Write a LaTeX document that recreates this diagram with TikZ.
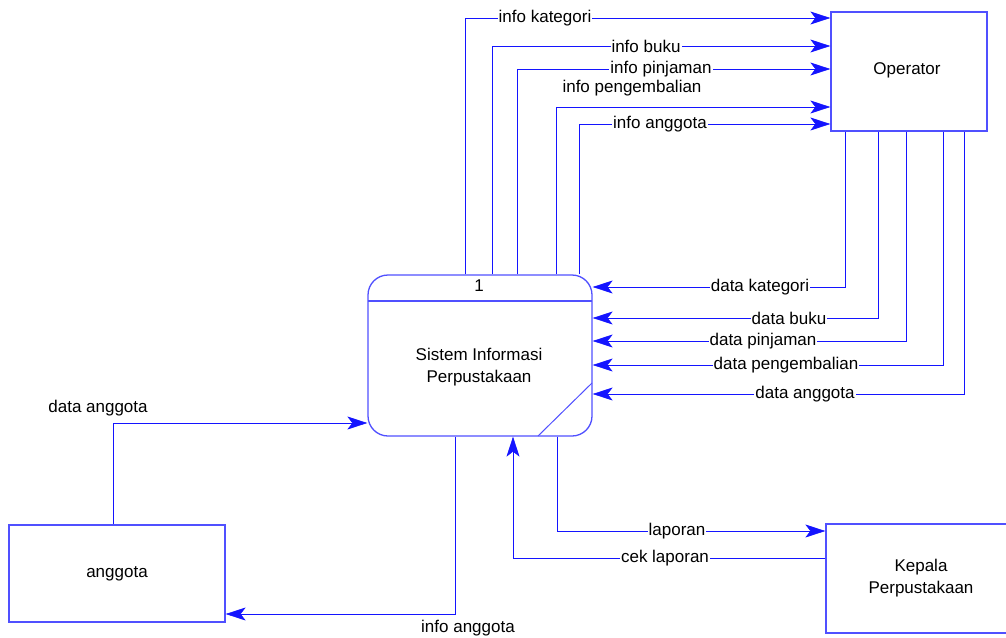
\documentclass[tikz,border=0pt]{standalone}
\usepackage{fontspec}
\setmainfont{Liberation Sans}
\usetikzlibrary{arrows.meta}
\definecolor{lineblue}{RGB}{20,20,255}
\definecolor{boxblue}{RGB}{80,80,255}
\begin{document}
\begin{tikzpicture}[x=1pt,y=-1pt,
  font=\fontsize{17}{22}\selectfont,
  flow/.style={draw=lineblue,line width=1pt,-{Stealth[length=20pt,width=13pt,inset=5pt,fill=lineblue,line width=0.6pt]}},
  entity/.style={draw=boxblue,line width=1.3pt,rectangle,inner sep=0pt},
  lbl/.style={fill=white,inner sep=1pt,text=black},
  txt/.style={inner sep=0pt,text=black,align=center}]
\useasboundingbox (0,0) rectangle (1006,637);
% entities
\node[entity,minimum width=156pt,minimum height=119pt] (op) at (909,71.5) {};
\node[txt] (optext) at (907,70) {Operator};
\node[entity,minimum width=216pt,minimum height=97pt] (ang) at (117,573.5) {};
\node[txt] (angtext) at (117,574) {anggota};
\node[entity,minimum width=190pt,minimum height=109pt] (kep) at (921,578.5) {};
\node[txt] (keptext) at (921,578) {Kepala\\Perpustakaan};
% process
\node[entity,rounded corners=20pt,minimum width=224pt,minimum height=161pt] (proc) at (480,355.5) {};
\coordinate (hl) at (368,301);
\coordinate (hr) at (592,301);
\draw[draw=boxblue,line width=1.2pt] (hl) -- (hr);
\coordinate (d1) at (592,383);
\coordinate (d2) at (538,436);
\draw[draw=boxblue,line width=1pt] (d1) -- (d2);
\node[txt] (pnum) at (479,286) {1};
\node[txt] (ptext) at (479,367) {Sistem Informasi\\Perpustakaan};
% flows to operator
\draw[flow] (proc.north -| 465,0) |- (op.west |- 0,18);
\draw[flow] (proc.north -| 492,0) |- (op.west |- 0,46);
\draw[flow] (proc.north -| 517,0) |- (op.west |- 0,69);
\draw[flow] (proc.north -| 556,0) |- (op.west |- 0,107);
\draw[flow] (proc.north -| 579,0) |- (op.west |- 0,124);
\node[lbl] (l1) at (545,18) {info kategori};
\node[lbl] (l2) at (646,46) {info buku};
\node[lbl] (l3) at (661,69) {info pinjaman};
\node[txt] (l4) at (632,88) {info pengembalian};
\node[lbl] (l5) at (660,124) {info anggota};
% flows from operator
\draw[flow] (op.south -| 845,0) |- (proc.east |- 0,287);
\draw[flow] (op.south -| 878,0) |- (proc.east |- 0,318);
\draw[flow] (op.south -| 906,0) |- (proc.east |- 0,341);
\draw[flow] (op.south -| 943,0) |- (proc.east |- 0,365);
\draw[flow] (op.south -| 964,0) |- (proc.east |- 0,394);
\node[lbl] (r1) at (760,287) {data kategori};
\node[lbl] (r2) at (789,318) {data buku};
\node[lbl] (r3) at (763,341) {data pinjaman};
\node[lbl] (r4) at (786,365) {data pengembalian};
\node[lbl] (r5) at (805,394) {data anggota};
% anggota flows
\draw[flow] (ang.north -| 113,0) |- (proc.west |- 0,423);
\node[txt] (a1) at (98,408) {data anggota};
\draw[flow] (proc.south -| 455,0) |- (ang.east |- 0,614);
\node[txt] (a2) at (468,628) {info anggota};
% kepala flows
\draw[flow] (proc.south -| 557,0) |- (kep.west |- 0,531);
\node[lbl] (k1) at (677,531) {laporan};
\draw[flow] (kep.west |- 0,558) -| (proc.south -| 513,0);
\node[lbl] (k2) at (665,558) {cek laporan};
\end{tikzpicture}
\end{document}
